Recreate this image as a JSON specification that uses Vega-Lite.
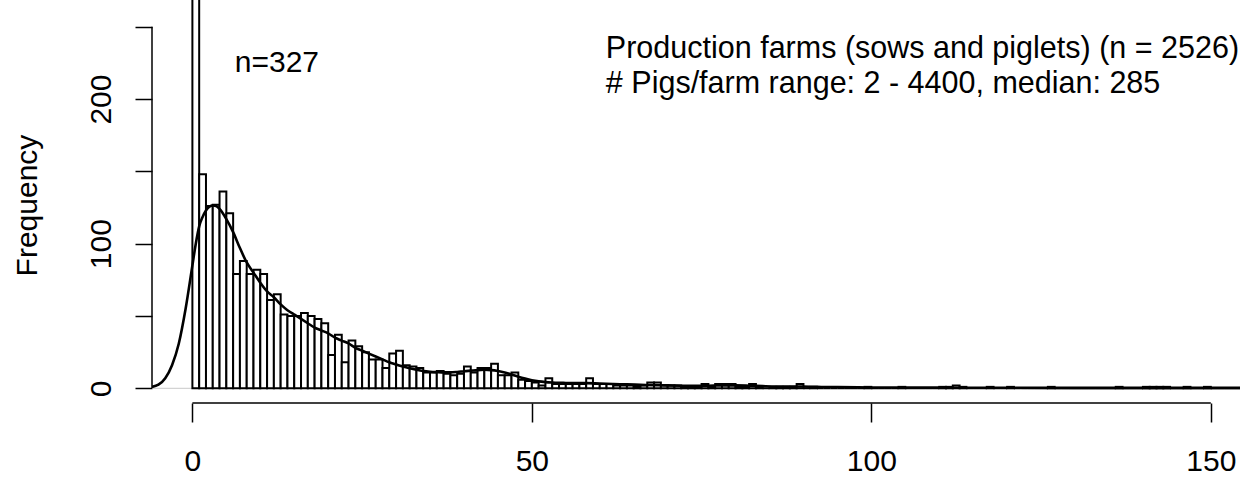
{
  "$schema": "https://vega.github.io/schema/vega-lite/v6.json",
  "autosize": {"type": "none"},
  "padding": {"left": 152, "right": 0, "top": 0, "bottom": 74},
  "width": 1088,
  "height": 403,
  "background": "white",
  "config": {
    "view": {"stroke": null},
    "font": "Liberation Sans",
    "axis": {"labelFont": "Liberation Sans", "titleFont": "Liberation Sans", "labelColor": "black", "titleColor": "black", "tickColor": "black", "grid": false, "domain": false}
  },
  "datasets": {
    "hist": [
      {"lo":0,"hi":1,"n":327},{"lo":1,"hi":2,"n":148},{"lo":2,"hi":3,"n":126},{"lo":3,"hi":4,"n":127},{"lo":4,"hi":5,"n":136},
      {"lo":5,"hi":6,"n":121},{"lo":6,"hi":7,"n":79},{"lo":7,"hi":8,"n":88},{"lo":8,"hi":9,"n":79},{"lo":9,"hi":10,"n":82},
      {"lo":10,"hi":11,"n":79},{"lo":11,"hi":12,"n":61},{"lo":12,"hi":13,"n":65},{"lo":13,"hi":14,"n":51},{"lo":14,"hi":15,"n":50},
      {"lo":15,"hi":16,"n":50},{"lo":16,"hi":17,"n":52},{"lo":17,"hi":18,"n":50},{"lo":18,"hi":19,"n":48},{"lo":19,"hi":20,"n":45},
      {"lo":20,"hi":21,"n":23},{"lo":21,"hi":22,"n":37},{"lo":22,"hi":23,"n":18},{"lo":23,"hi":24,"n":33},{"lo":24,"hi":25,"n":29},
      {"lo":25,"hi":26,"n":25},{"lo":26,"hi":27,"n":20},{"lo":27,"hi":28,"n":20},{"lo":28,"hi":29,"n":14},{"lo":29,"hi":30,"n":24},
      {"lo":30,"hi":31,"n":26},{"lo":31,"hi":32,"n":16},{"lo":32,"hi":33,"n":15},{"lo":33,"hi":34,"n":14},{"lo":34,"hi":35,"n":11},
      {"lo":35,"hi":36,"n":11},{"lo":36,"hi":37,"n":12},{"lo":37,"hi":38,"n":10},{"lo":38,"hi":39,"n":9},{"lo":39,"hi":40,"n":10},
      {"lo":40,"hi":41,"n":15},{"lo":41,"hi":42,"n":11},{"lo":42,"hi":43,"n":14},{"lo":43,"hi":44,"n":14},{"lo":44,"hi":45,"n":17},
      {"lo":45,"hi":46,"n":9},{"lo":46,"hi":47,"n":9},{"lo":47,"hi":48,"n":11},{"lo":48,"hi":49,"n":6},{"lo":49,"hi":50,"n":5},
      {"lo":50,"hi":51,"n":4},{"lo":51,"hi":52,"n":2},{"lo":52,"hi":53,"n":7},{"lo":53,"hi":54,"n":3},{"lo":54,"hi":55,"n":3},
      {"lo":55,"hi":56,"n":3},{"lo":56,"hi":57,"n":3},{"lo":57,"hi":58,"n":3},{"lo":58,"hi":59,"n":7},{"lo":59,"hi":60,"n":3},
      {"lo":60,"hi":61,"n":3},{"lo":61,"hi":62,"n":3},{"lo":62,"hi":63,"n":2},{"lo":63,"hi":64,"n":2},{"lo":64,"hi":65,"n":2},
      {"lo":65,"hi":66,"n":1},{"lo":66,"hi":67,"n":2},{"lo":67,"hi":68,"n":4},{"lo":68,"hi":69,"n":4},{"lo":69,"hi":70,"n":2},
      {"lo":70,"hi":71,"n":2},{"lo":71,"hi":72,"n":2},{"lo":72,"hi":73,"n":1},{"lo":73,"hi":74,"n":1},{"lo":74,"hi":75,"n":1},
      {"lo":75,"hi":76,"n":3},{"lo":76,"hi":77,"n":1},{"lo":77,"hi":78,"n":3},{"lo":78,"hi":79,"n":3},{"lo":79,"hi":80,"n":3},
      {"lo":80,"hi":81,"n":1},{"lo":81,"hi":82,"n":1},{"lo":82,"hi":83,"n":3},{"lo":83,"hi":84,"n":1},{"lo":84,"hi":85,"n":0},
      {"lo":85,"hi":86,"n":1},{"lo":86,"hi":87,"n":1},{"lo":87,"hi":88,"n":1},{"lo":88,"hi":89,"n":1},{"lo":89,"hi":90,"n":3},
      {"lo":90,"hi":91,"n":0},{"lo":91,"hi":92,"n":1},{"lo":92,"hi":93,"n":0},{"lo":93,"hi":94,"n":0},{"lo":94,"hi":95,"n":0},
      {"lo":95,"hi":96,"n":0},{"lo":96,"hi":97,"n":0},{"lo":97,"hi":98,"n":0},{"lo":98,"hi":99,"n":0},{"lo":99,"hi":100,"n":1},
      {"lo":100,"hi":101,"n":0},{"lo":101,"hi":102,"n":0},{"lo":102,"hi":103,"n":0},{"lo":103,"hi":104,"n":0},{"lo":104,"hi":105,"n":1},
      {"lo":105,"hi":106,"n":0},{"lo":106,"hi":107,"n":0},{"lo":107,"hi":108,"n":0},{"lo":108,"hi":109,"n":0},{"lo":109,"hi":110,"n":0},
      {"lo":110,"hi":111,"n":1},{"lo":111,"hi":112,"n":1},{"lo":112,"hi":113,"n":2},{"lo":113,"hi":114,"n":1},{"lo":114,"hi":115,"n":0},
      {"lo":115,"hi":116,"n":0},{"lo":116,"hi":117,"n":0},{"lo":117,"hi":118,"n":1},{"lo":118,"hi":119,"n":0},{"lo":119,"hi":120,"n":0},
      {"lo":120,"hi":121,"n":1},{"lo":121,"hi":122,"n":0},{"lo":122,"hi":123,"n":0},{"lo":123,"hi":124,"n":0},{"lo":124,"hi":125,"n":0},
      {"lo":125,"hi":126,"n":0},{"lo":126,"hi":127,"n":1},{"lo":127,"hi":128,"n":0},{"lo":128,"hi":129,"n":0},{"lo":129,"hi":130,"n":0},
      {"lo":130,"hi":131,"n":0},{"lo":131,"hi":132,"n":0},{"lo":132,"hi":133,"n":0},{"lo":133,"hi":134,"n":0},{"lo":134,"hi":135,"n":0},
      {"lo":135,"hi":136,"n":0},{"lo":136,"hi":137,"n":1},{"lo":137,"hi":138,"n":0},{"lo":138,"hi":139,"n":0},{"lo":139,"hi":140,"n":0},
      {"lo":140,"hi":141,"n":1},{"lo":141,"hi":142,"n":1},{"lo":142,"hi":143,"n":1},{"lo":143,"hi":144,"n":1},{"lo":144,"hi":145,"n":0},
      {"lo":145,"hi":146,"n":0},{"lo":146,"hi":147,"n":1},{"lo":147,"hi":148,"n":0},{"lo":148,"hi":149,"n":0},{"lo":149,"hi":150,"n":1},
      {"lo":150,"hi":151,"n":0},{"lo":151,"hi":152,"n":0},{"lo":152,"hi":153,"n":0},{"lo":153,"hi":154,"n":0},{"lo":154,"hi":155,"n":0}
    ],
    "dens": [
      {"x":-5.95,"y":1},{"x":-5,"y":2.5},{"x":-4,"y":7},{"x":-3,"y":16},{"x":-2,"y":31},{"x":-1,"y":55},{"x":0,"y":85},
      {"x":0.5,"y":100},{"x":1,"y":112},{"x":1.5,"y":118.5},{"x":2,"y":123},{"x":2.5,"y":125.5},{"x":3,"y":126.5},{"x":3.5,"y":126},
      {"x":4,"y":124},{"x":5,"y":117},{"x":6,"y":108},{"x":7,"y":97},{"x":8,"y":87},{"x":9,"y":80},{"x":10,"y":73},
      {"x":11,"y":67},{"x":12,"y":63},{"x":13,"y":58},{"x":14,"y":54},{"x":15,"y":51},{"x":16,"y":48},{"x":17,"y":45},
      {"x":18,"y":42},{"x":19,"y":40},{"x":20,"y":38},{"x":21,"y":35},{"x":22,"y":33},{"x":23,"y":31},{"x":24,"y":28},
      {"x":25,"y":26},{"x":26,"y":24},{"x":27,"y":22},{"x":28,"y":20},{"x":29,"y":18},{"x":30,"y":16.5},{"x":31,"y":15},
      {"x":32,"y":13.8},{"x":33,"y":12.8},{"x":34,"y":12},{"x":35,"y":11.5},{"x":36,"y":11.2},{"x":37,"y":11},{"x":38,"y":11},
      {"x":39,"y":11.3},{"x":40,"y":11.8},{"x":41,"y":12.2},{"x":42,"y":12.6},{"x":43,"y":12.8},{"x":44,"y":12.6},{"x":45,"y":12},
      {"x":46,"y":11},{"x":47,"y":9.5},{"x":48,"y":8},{"x":49,"y":6.7},{"x":50,"y":5.6},{"x":51,"y":4.8},{"x":52,"y":4.3},
      {"x":53,"y":4},{"x":54,"y":3.8},{"x":55,"y":3.7},{"x":56,"y":3.6},{"x":58,"y":3.6},{"x":60,"y":3.3},{"x":62,"y":3},
      {"x":64,"y":2.7},{"x":66,"y":2.4},{"x":68,"y":2.2},{"x":70,"y":2},{"x":72,"y":1.8},{"x":74,"y":1.7},{"x":76,"y":1.8},
      {"x":78,"y":2},{"x":80,"y":2},{"x":82,"y":1.8},{"x":84,"y":1.5},{"x":86,"y":1.3},{"x":88,"y":1.3},{"x":90,"y":1.2},
      {"x":92,"y":1},{"x":95,"y":0.8},{"x":100,"y":0.6},{"x":105,"y":0.5},{"x":110,"y":0.5},{"x":115,"y":0.4},{"x":120,"y":0.4},
      {"x":130,"y":0.3},{"x":140,"y":0.3},{"x":150,"y":0.3},{"x":154.3,"y":0.3}
    ]
  },
  "layer": [
    {
      "data": {"values": [{}]},
      "mark": {"type": "rule", "color": "#c8c8c8", "strokeWidth": 1},
      "encoding": {
        "x": {"datum": -5.95, "type": "quantitative", "scale": {"domain": [-5.95, 154.3], "nice": false, "zero": false},
          "axis": {"title": null, "values": [0, 50, 100, 150], "tickSize": 19, "tickWidth": 1.5, "labelFontSize": 30, "labelPadding": 48, "labelBaseline": "alphabetic", "labelAlign": "center", "labelFlush": false, "labelOverlap": false}},
        "x2": {"datum": 154.3},
        "y": {"datum": 0, "type": "quantitative", "scale": {"domain": [-10.16, 268.5], "nice": false, "zero": false},
          "axis": {"title": "Frequency", "values": [0, 50, 100, 150, 200, 250], "tickSize": 17, "tickWidth": 1.5, "labelFontSize": 30, "labelAngle": -90, "labelAlign": "center", "labelBaseline": "alphabetic", "labelPadding": 25, "labelFlush": false, "labelOverlap": false, "labelExpr": "datum.value % 100 === 0 ? datum.label : ''", "titleFontSize": 30, "titleFontWeight": "normal", "titleAngle": -90, "titleAlign": "center", "titleBaseline": "alphabetic", "titleX": -116, "titleY": 205}}
      }
    },
    {
      "data": {"name": "hist"},
      "mark": {"type": "rect", "fill": "white", "stroke": "black", "strokeWidth": 2, "clip": true},
      "encoding": {
        "x": {"field": "lo", "type": "quantitative", "title": null},
        "x2": {"field": "hi"},
        "y": {"field": "n", "type": "quantitative", "title": "Frequency"},
        "y2": {"datum": 0}
      }
    },
    {
      "data": {"name": "dens"},
      "mark": {"type": "line", "color": "black", "strokeWidth": 2.6, "interpolate": "monotone", "clip": true},
      "encoding": {
        "x": {"field": "x", "type": "quantitative", "title": null},
        "y": {"field": "y", "type": "quantitative", "title": "Frequency"}
      }
    },
    {
      "data": {"values": [{}]},
      "mark": {"type": "rule", "color": "black", "strokeWidth": 1.5},
      "encoding": {
        "x": {"datum": -5.95, "type": "quantitative"},
        "y": {"datum": 0, "type": "quantitative"},
        "y2": {"datum": 250}
      }
    },
    {
      "data": {"values": [{}]},
      "mark": {"type": "rule", "color": "black", "strokeWidth": 1.5},
      "encoding": {
        "x": {"datum": 0, "type": "quantitative"},
        "x2": {"datum": 150},
        "y": {"datum": -10.16, "type": "quantitative"}
      }
    },
    {
      "data": {"values": [{}]},
      "mark": {"type": "text", "font": "Liberation Sans", "fontSize": 30, "color": "black", "align": "center", "baseline": "alphabetic"},
      "encoding": {
        "x": {"datum": 12.45, "type": "quantitative"},
        "y": {"datum": 218.9, "type": "quantitative"},
        "text": {"value": "n=327"}
      }
    },
    {
      "data": {"values": [{}]},
      "mark": {"type": "text", "font": "Liberation Sans", "fontSize": 30.5, "color": "black", "align": "left", "baseline": "alphabetic"},
      "encoding": {
        "x": {"datum": 60.9, "type": "quantitative"},
        "y": {"datum": 228.4, "type": "quantitative"},
        "text": {"value": "Production farms (sows and piglets) (n = 2526)"}
      }
    },
    {
      "data": {"values": [{}]},
      "mark": {"type": "text", "font": "Liberation Sans", "fontSize": 30.5, "color": "black", "align": "left", "baseline": "alphabetic"},
      "encoding": {
        "x": {"datum": 60.9, "type": "quantitative"},
        "y": {"datum": 204.2, "type": "quantitative"},
        "text": {"value": "# Pigs/farm range: 2 - 4400, median: 285"}
      }
    }
  ]
}
